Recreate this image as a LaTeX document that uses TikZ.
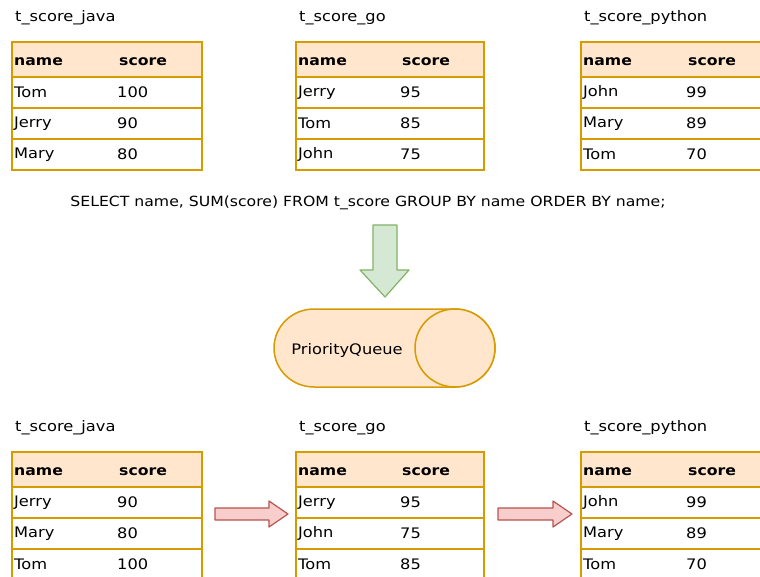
\documentclass[tikz,border=0pt]{standalone}
\usepackage{fontspec}
\setmainfont[FakeStretch=1.12]{DejaVu Sans}
\definecolor{tborder}{HTML}{D79B00}
\definecolor{thead}{HTML}{FFE6CC}
\definecolor{gfill}{HTML}{D5E8D4}
\definecolor{gline}{HTML}{82B366}
\definecolor{rfill}{HTML}{F8CECC}
\definecolor{rline}{HTML}{B85450}
\tikzset{
  tabline/.style={draw=tborder, line width=1.7pt, outer sep=0pt},
  headcell/.style={tabline, fill=thead, anchor=north west, minimum height=35pt, inner sep=0pt},
  rowcell/.style={tabline, fill=white, anchor=north west, minimum height=31pt, inner sep=0pt},
  celltext/.style={anchor=west, inner sep=0pt, font=\fontsize{14.5}{16}\selectfont},
  headtext/.style={anchor=west, inner sep=0pt, font=\bfseries\fontsize{14}{17}\selectfont},
  titletext/.style={anchor=west, inner sep=0pt, font=\fontsize{14.5}{17}\selectfont},
  sqltext/.style={inner sep=0pt, font=\fontsize{14}{16}\selectfont},
  greenarrow/.style={fill=gfill, draw=gline, line width=1.2pt, line join=round},
  redarrow/.style={fill=rfill, draw=rline, line width=1.2pt, line join=round},
  queue/.style={fill=thead, draw=tborder, line width=1.5pt},
}
% #1 id, #2 left, #3 top, #4 width, #5 score offset, #6 title, #7 rows
\newcommand\scoretab[7]{%
  \node[titletext] (#1-t) at (#2+3,#3-24) {#6};
  \node[headcell, minimum width=#4pt] (#1-h) at (#2,#3) {};
  \node[headtext] (#1-hn) at (#2+2,#3+20) {name};
  \node[headtext] (#1-hs) at (#2+#5,#3+20) {score};
  \foreach \n/\s [count=\i from 0] in {#7} {
    \node[rowcell, minimum width=#4pt] (#1-r\i) at (#2,#3+35+31*\i) {};
    \node[celltext] (#1-n\i) at (#2+2,#3+35+31*\i+15.5) {\n};
    \node[celltext] (#1-s\i) at (#2+#5-2,#3+35+31*\i+15.5) {\s};
  }%
}
\begin{document}
\begin{tikzpicture}[x=1pt,y=-1pt]
\clip (0,0) rectangle (760,577);
\useasboundingbox (0,0) rectangle (760,577);
\fill[white] (0,0) rectangle (760,577);

\scoretab{tj}{12}{42}{190}{107}{t\_score\_java}{Tom/100,Jerry/90,Mary/80}
\scoretab{tg}{296}{42}{188}{106}{t\_score\_go}{Jerry/95,Tom/85,John/75}
\scoretab{tp}{581}{42}{200}{107}{t\_score\_python}{John/99,Mary/89,Tom/70}

\node[sqltext] (sql) at (368,203) {SELECT name, SUM(score) FROM t\_score GROUP BY name ORDER BY name;};

\draw[greenarrow] (373,225) -- (397,225) -- (397,270) -- (409,270) -- (385,297) -- (360,270) -- (373,270) -- cycle;

\draw[queue] (314,309) -- (455,309) arc[start angle=-90, end angle=90, x radius=40, y radius=39] -- (314,387) arc[start angle=90, end angle=270, x radius=40, y radius=39] -- cycle;
\draw[queue] (455,348) ellipse[x radius=40, y radius=39];
\node[celltext, anchor=center] (pq) at (347,350) {PriorityQueue};

\scoretab{bj}{12}{452}{190}{107}{t\_score\_java}{Jerry/90,Mary/80,Tom/100}
\scoretab{bg}{296}{452}{188}{106}{t\_score\_go}{Jerry/95,John/75,Tom/85}
\scoretab{bp}{581}{452}{200}{107}{t\_score\_python}{John/99,Mary/89,Tom/70}

\draw[redarrow] (215,508) -- (269,508) -- (269,501) -- (288,514) -- (269,527) -- (269,520) -- (215,520) -- cycle;
\draw[redarrow] (498,508) -- (553,508) -- (553,501) -- (572,514) -- (553,527) -- (553,520) -- (498,520) -- cycle;
\end{tikzpicture}
\end{document}
